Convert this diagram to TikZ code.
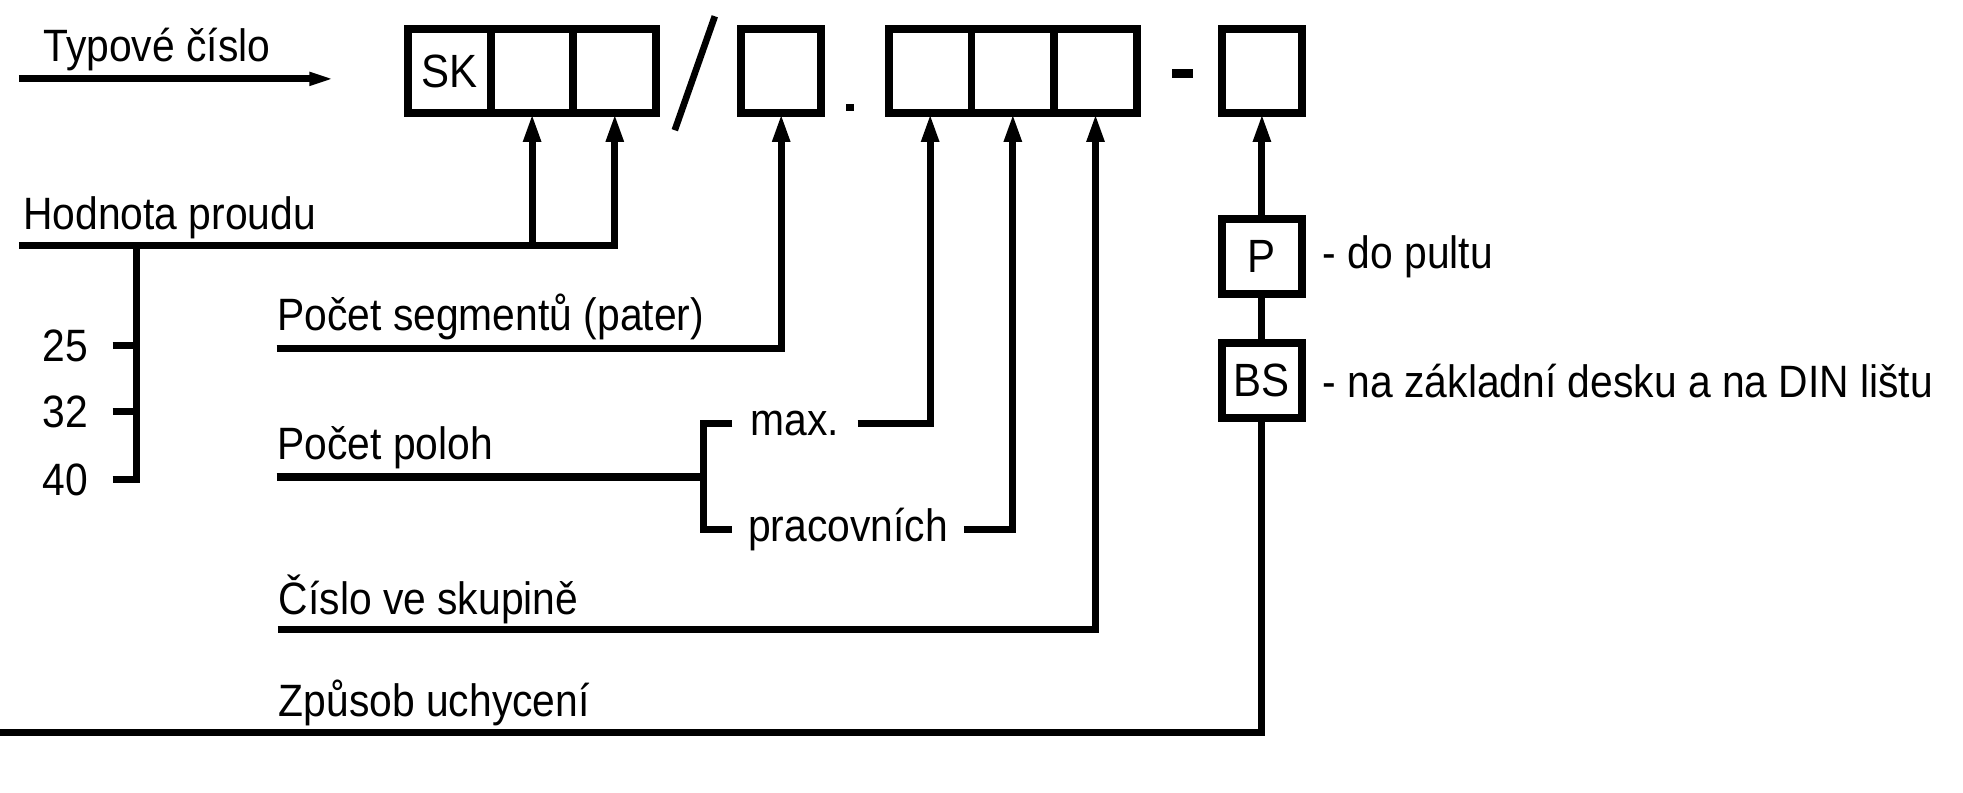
\documentclass[tikz,border=0pt]{standalone}
\usepackage{fontspec}
\setmainfont[FakeStretch=0.9]{Liberation Sans}
\usetikzlibrary{positioning,arrows.meta}
\tikzset{
    code-cell/.style = {draw, line width=1.8pt, minimum width=0.66cm, minimum height=0.67cm, inner sep=0pt, outer sep=0pt, font=\fontsize{10.6}{12}\selectfont},
    code-single/.style = {code-cell, minimum width=0.64cm},
    mount-box/.style = {code-cell, minimum width=0.64cm, minimum height=0.6cm},
    caption/.style = {inner sep=0pt, font=\fontsize{10.3}{12}\selectfont},
    lead/.style = {line width=1.6pt},
    lead-arrow/.style = {lead, -{Triangle[length=6.5pt, width=3.7pt]}},
}

\begin{document}
\begin{tikzpicture}[x=0.01cm, y=-0.01cm]
\useasboundingbox (0,0) rectangle (1568,633);
% code boxes
\node[code-cell] (sk1) at (359,57) {SK};
\node[code-cell, right=0pt of sk1] (sk2) {};
\node[code-cell, right=0pt of sk2] (sk3) {};
\node[code-single] (seg) at (624,57) {};
\node[code-cell] (pos1) at (743,57) {};
\node[code-cell, right=0pt of pos1] (pos2) {};
\node[code-cell, right=0pt of pos2] (pos3) {};
\node[code-single] (mnt) at (1008,57) {};
\draw[line width=1.5pt] (539,104) -- (571,13);
\fill (676,83) rectangle (682,89);
\fill (936,55) rectangle (953,62);

\node[caption, anchor=base west] (typ) at (34,49) {Typové číslo};
\coordinate (typ-start) at (15,63);
\coordinate (typ-end) at (270,63);
\draw[lead, -{Triangle[length=6.5pt, width=2.6pt]}] (typ-start) -- (typ-end);

% current
\node[caption, anchor=base west] (hod) at (18,183) {Hodnota proudu};
\coordinate (hod-start) at (15,196);
\draw[lead-arrow] (hod-start) -| (sk3.south);
\draw[lead-arrow] (sk2.south |- hod-start) -- (sk2.south);
\coordinate (range-top) at (109,196);
\coordinate (tick40) at (90,383);
\draw[lead] (tick40) -| (range-top);
\foreach \v/\y in {25/276, 32/329}
    \draw[lead] (90,\y) coordinate (tick\v) -- (109,\y);
\foreach \v in {25,32,40}
    \node[caption, left=0.19cm of tick\v] (val\v) {\v};

% segments
\node[caption, anchor=base west] (segtxt) at (221,264) {Počet segmentů (pater)};
\coordinate (seg-start) at (221,278);
\draw[lead-arrow] (seg-start) -| (seg.south);

% positions
\node[caption, anchor=base west] (poltxt) at (221,367) {Počet poloh};
\coordinate (pol-start) at (221,381);
\coordinate (pol-fork) at (562,381);
\draw[lead] (pol-start) -- (pol-fork);
\node[caption, inner xsep=0.14cm, anchor=west] (maxtxt) at (585,338) {max.};
\node[caption, inner xsep=0.12cm, anchor=west] (practxt) at (585,423) {pracovních};
\draw[lead] (maxtxt.west) -| (pol-fork) |- (practxt.west);
\draw[lead-arrow] (maxtxt.east) -| (pos1.south);
\draw[lead-arrow] (practxt.east) -| (pos2.south);

% group number
\node[caption, anchor=base west] (cistxt) at (222,491) {Číslo ve skupině};
\coordinate (cis-start) at (222,503);
\draw[lead-arrow] (cis-start) -| (pos3.south);

% mounting
\node[mount-box] (mntP) at (1008,205) {P};
\node[mount-box] (mntBS) at (1008,304) {BS};
\node[caption, right=0.16cm of mntP] (ptxt) {- do pultu};
\node[caption, right=0.16cm of mntBS] (bstxt) {- na základní desku a na DIN lištu};
\draw[lead-arrow] (mntP.north) -- (mnt.south);
\draw[lead] (mntP.south) -- (mntBS.north);
\node[caption, anchor=base west] (zputxt) at (222,572) {Způsob uchycení};
\coordinate (zpu-start) at (0,585);
\draw[lead] (zpu-start) -| (mntBS.south);
\end{tikzpicture}
\end{document}
